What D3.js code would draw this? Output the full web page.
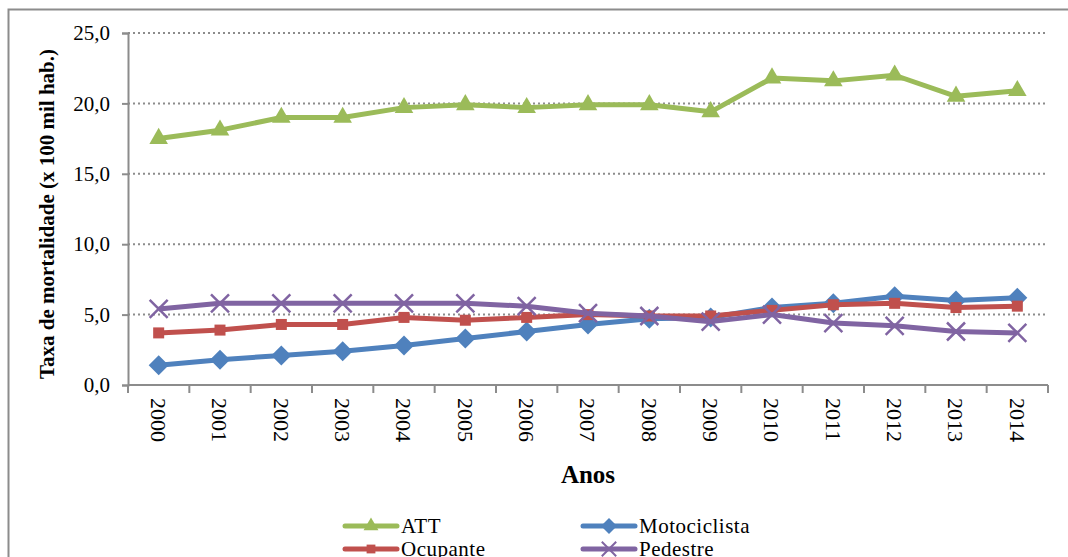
<!DOCTYPE html>
<html>
<head>
<meta charset="utf-8">
<script src="https://cdn.jsdelivr.net/npm/d3@7"></script>
<style>
  body { margin: 0; background: #fff; }
  svg text { font-family: "Liberation Serif", "Times New Roman", serif; }
</style>
</head>
<body>
<script>
const years = ['2000', '2001', '2002', '2003', '2004', '2005', '2006', '2007',
    '2008', '2009', '2010', '2011', '2012', '2013', '2014'];

const att = [17.5, 18.1, 19.0, 19.0, 19.7, 19.9, 19.7, 19.9, 19.9, 19.4, 21.8, 21.6, 22.0, 20.5, 20.9];
const motociclista = [1.4, 1.8, 2.1, 2.4, 2.8, 3.3, 3.8, 4.3, 4.7, 4.8, 5.5, 5.8, 6.3, 6.0, 6.2];
const ocupante = [3.7, 3.9, 4.3, 4.3, 4.8, 4.6, 4.8, 5.0, 4.9, 4.9, 5.3, 5.7, 5.8, 5.5, 5.6];
const pedestre = [5.4, 5.8, 5.8, 5.8, 5.8, 5.8, 5.6, 5.1, 4.9, 4.5, 5.0, 4.4, 4.2, 3.8, 3.7];

const yTicks = [0, 5, 10, 15, 20, 25];

const series = [
    { name: 'ATT', values: att, color: '#9BBB59', symbol: 'triangle' },
    { name: 'Motociclista', values: motociclista, color: '#4F81BD', symbol: 'diamond' },
    { name: 'Ocupante', values: ocupante, color: '#C0504D', symbol: 'square' },
    { name: 'Pedestre', values: pedestre, color: '#8064A2', symbol: 'x' },
];

const W = 1068, H = 557;
const serif = '"Liberation Serif", "Times New Roman", serif';

const svg = d3.select('body').append('svg')
    .attr('width', W)
    .attr('height', H)
    .attr('font-family', serif);

// outer frame
svg.append('rect')
    .attr('x', 8.5).attr('y', 9.5)
    .attr('width', 1100).attr('height', 600)
    .attr('fill', 'none')
    .attr('stroke', '#8c8c8c')
    .attr('stroke-width', 2);

const x = d3.scaleBand()
    .domain(years)
    .range([128, 1048]);

const y = d3.scaleLinear()
    .domain([0, 25])
    .range([385, 33]);

// grid
svg.append('g')
    .selectAll('line')
    .data(yTicks.filter(d => d > 0))
    .join('line')
    .attr('x1', 128).attr('x2', 1048)
    .attr('y1', d => y(d)).attr('y2', d => y(d))
    .attr('stroke', '#8c8c8c')
    .attr('stroke-width', 2)
    .attr('stroke-dasharray', '2,3');

// y axis
const yAxis = svg.append('g')
    .attr('transform', 'translate(128,0)')
    .call(d3.axisLeft(y).tickValues(yTicks).tickSize(6).tickPadding(12)
        .tickFormat(d => d3.format('.1f')(d).replace('.', ',')));
yAxis.attr('font-family', serif);
yAxis.select('.domain').attr('stroke', '#8c8c8c').attr('stroke-width', 2);
yAxis.selectAll('.tick line').attr('stroke', '#8c8c8c').attr('stroke-width', 2);
yAxis.selectAll('text')
    .attr('font-family', serif)
    .attr('font-size', 21)
    .attr('fill', '#000');

// x axis (ticks at category boundaries)
const xg = svg.append('g');
xg.append('line')
    .attr('x1', 128).attr('x2', 1048)
    .attr('y1', 385).attr('y2', 385)
    .attr('stroke', '#8c8c8c').attr('stroke-width', 2);
xg.selectAll('.bound')
    .data(years.concat(['end']))
    .join('line')
    .attr('class', 'bound')
    .attr('x1', (d, i) => 128 + i * x.bandwidth())
    .attr('x2', (d, i) => 128 + i * x.bandwidth())
    .attr('y1', 385).attr('y2', 393)
    .attr('stroke', '#8c8c8c').attr('stroke-width', 2);
xg.selectAll('.yl')
    .data(years)
    .join('text')
    .attr('class', 'yl')
    .attr('transform', d => `translate(${x(d) + x.bandwidth() / 2},398) rotate(90)`)
    .attr('dy', '0.35em')
    .attr('font-size', 22)
    .text(d => d);

// axis titles
svg.append('text')
    .attr('transform', 'translate(47,214) rotate(-90)')
    .attr('text-anchor', 'middle')
    .attr('dy', '0.35em')
    .attr('font-weight', 'bold')
    .attr('font-size', 21)
    .text('Taxa de mortalidade (x 100 mil hab.)');

svg.append('text')
    .attr('x', 588).attr('y', 483)
    .attr('text-anchor', 'middle')
    .attr('font-weight', 'bold')
    .attr('font-size', 25)
    .text('Anos');

const line = d3.line()
    .x((d, i) => x(years[i]) + x.bandwidth() / 2)
    .y(d => y(d));

function drawMarker(g, sym, color) {
    if (sym === 'triangle') {
        g.append('path').attr('d', d3.symbol(d3.symbolTriangle, 150)()).attr('fill', color);
    } else if (sym === 'diamond') {
        g.append('path').attr('d', 'M0,-10L10,0L0,10L-10,0Z').attr('fill', color);
    } else if (sym === 'square') {
        g.append('rect').attr('x', -5.5).attr('y', -5.5).attr('width', 11).attr('height', 11).attr('fill', color);
    } else {
        g.append('path').attr('d', 'M-9,-9L9,9M-9,9L9,-9')
            .attr('stroke', color).attr('stroke-width', 2.5).attr('fill', 'none');
    }
}

series.forEach(s => {
    svg.append('path')
        .datum(s.values)
        .attr('d', line)
        .attr('fill', 'none')
        .attr('stroke', s.color)
        .attr('stroke-width', 5)
        .attr('stroke-linejoin', 'round');
    svg.append('g').selectAll('g')
        .data(s.values)
        .join('g')
        .attr('transform', (d, i) => `translate(${x(years[i]) + x.bandwidth() / 2},${y(d)})`)
        .each(function () { drawMarker(d3.select(this), s.symbol, s.color); });
});

// legend
const legPos = [[345, 526], [583, 526], [345, 549], [583, 549]];
series.forEach((s, i) => {
    const [lx, ly] = legPos[i];
    const g = svg.append('g').attr('transform', `translate(${lx},${ly})`);
    g.append('line').attr('x1', 0).attr('x2', 52).attr('y1', 0).attr('y2', 0)
        .attr('stroke', s.color).attr('stroke-width', 5).attr('stroke-linecap', 'round');
    const m = g.append('g').attr('transform', 'translate(26,0) scale(0.8)');
    drawMarker(m, s.symbol, s.color);
    g.append('text').attr('x', 56).attr('y', 0).attr('dy', '0.35em')
        .attr('font-size', 21).attr('letter-spacing', 0.5).text(s.name);
});
</script>
</body>
</html>
